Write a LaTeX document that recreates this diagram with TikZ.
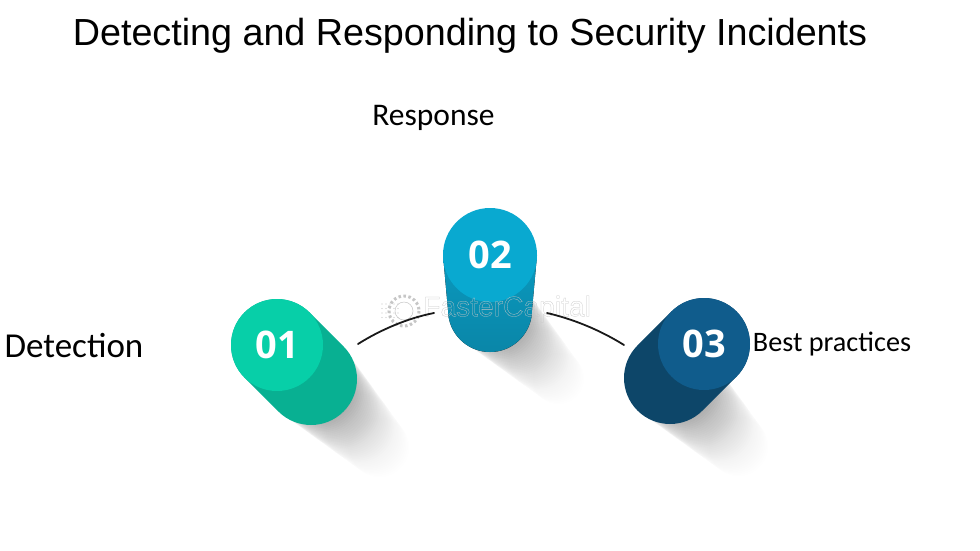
\documentclass[tikz,border=0pt]{standalone}
\usepackage{fontspec}
\setmainfont{Carlito}
\newfontfamily\titlefont{Liberation Sans}
\newfontfamily\numberfont{Open Sans}
\usetikzlibrary{calc}

\definecolor{tealtop}{HTML}{07CFA8}
\definecolor{tealbody}{HTML}{08B092}
\definecolor{cyantop}{HTML}{09A9D0}
\definecolor{cyanbody}{HTML}{0A92B6}
\definecolor{cyanfoot}{HTML}{0A86A8}
\definecolor{navytop}{HTML}{105C8C}
\definecolor{navybody}{HTML}{0D4669}

\tikzset{
    disc/.style={circle,inner sep=0pt,minimum size=#1,text=white,font=\numberfont\bfseries\fontsize{38}{38}\selectfont},
    label/.style={inner sep=0pt,text=black},
    link/.style={line width=1.8pt,line cap=round,black!90},
}

\begin{document}
\begin{tikzpicture}[x=1pt,y=-1pt]
    \useasboundingbox (0,0) rectangle (980,550);
    \fill[white] (0,0) rectangle (980,550);

    % Long soft shadows
    \foreach \cx/\cy/\rad in {311/379/45,490/310/41,670/378/45}{
        \foreach \k in {1,...,42}{
            \fill[black,opacity={0.016*(1-\k/44)}] ({\cx+\k*1.8},{\cy+\k*1.8}) circle ({\rad-\k*0.4});
        }
    }

    % Cylinder 01
    \draw[tealbody,line width=92pt,line cap=round] (277,345) -- (311,379);
    \node[disc=92pt,fill=tealtop] (one) at (277,345) {01};

    % Cylinder 02, narrower towards its foot
    \fill[top color=cyanbody!70!cyantop,bottom color=cyanfoot]
        (443,255) -- (448,310) arc (180:0:42) -- (537,255) -- cycle;
    \node[disc=94pt,fill=cyantop] (two) at (490,255) {02};

    % Cylinder 03
    \draw[navybody,line width=92pt,line cap=round] (704,344) -- (670,378);
    \node[disc=92pt,fill=navytop] (three) at (704,344) {03};

    % Watermark
    \begin{scope}[gray!45]
        \draw[line width=0.5pt] (404,311) circle (9);
        \draw[line width=3pt,dash pattern=on 2.5pt off 2.5pt] (404,311) circle (15);
        \foreach \i in {0,...,4}{
            \foreach \j in {0,...,3}{
                \fill ({382+\i*4},{304+\j*4.5}) circle (0.6);
            }
        }
        \node[inner sep=0pt,anchor=west] (brand) at (423,309)
            {\special{pdf:code 1 Tr 0.25 w}\titlefont\fontsize{28.2}{28.2}\selectfont FasterCapital\special{pdf:code 0 Tr}};
    \end{scope}

    % Links between the cylinders
    \coordinate (linkA) at ($(one)+(81,-1)$);
    \coordinate (linkB) at ($(two)+(-56,58)$);
    \coordinate (linkC) at ($(two)+(57,58)$);
    \coordinate (linkD) at ($(three)+(-80,1)$);
    \draw[link] (linkA) .. controls (380,330) and (408,318) .. (linkB);
    \draw[link] (linkC) .. controls (573,319) and (600,330) .. (linkD);

    % Labels
    \node[inner sep=0pt] (title) at (470,36) {\titlefont\fontsize{37.7}{38}\selectfont Detecting and Responding to Security Incidents};
    \node[label,font=\fontsize{31.5}{32}\selectfont] (response) at (433.5,118) {Response};
    \node[label,font=\fontsize{35}{35}\selectfont] (detection) at (74,346) {Detection};
    \node[label,font=\fontsize{28.2}{28}\selectfont] (practices) at (832,344) {Best practices};
\end{tikzpicture}
\end{document}
